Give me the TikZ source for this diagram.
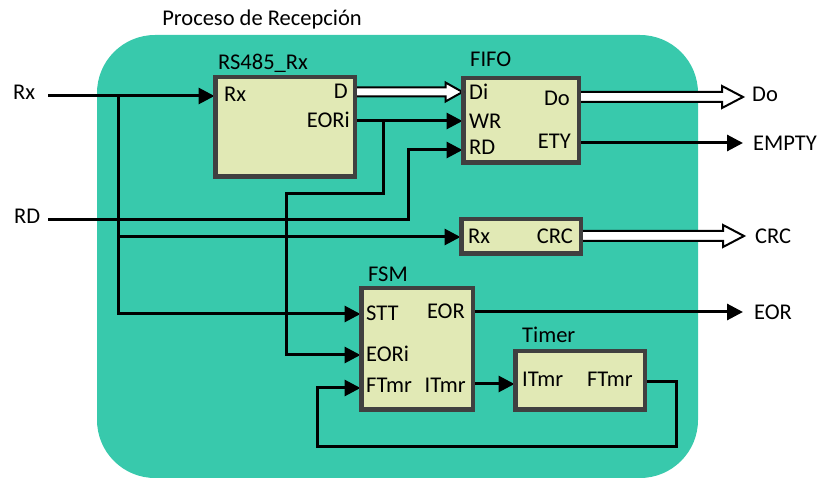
\documentclass[tikz,border=0pt]{standalone}
\usepackage{fontspec}
\setmainfont{Carlito}
\usetikzlibrary{arrows.meta,calc}
\definecolor{tealbg}{HTML}{38C9AC}
\definecolor{boxfill}{HTML}{E1E9B5}
\definecolor{boxline}{HTML}{404040}
\newcommand\hollowarr[5]{%
  \draw[harrow] let \p1=(#1), \p2=(#2) in
    (\x1,\y1+#3) -- (\x2-#5,\y1+#3) -- (\x2-#5,\y1+#4) -- (\x2,\y1)
    -- (\x2-#5,\y1-#4) -- (\x2-#5,\y1-#3) -- (\x1,\y1-#3) -- cycle;}
\begin{document}
\begin{tikzpicture}[x=1pt,y=-1pt,
  font=\fontsize{22.5}{27}\selectfont,
  blk/.style={draw=boxline, fill=boxfill, line width=3pt, inner sep=0pt},
  sig/.style={line width=3pt, -{Triangle[length=16pt,width=16pt]}},
  harrow/.style={draw=black, fill=white, line width=2pt, line join=miter},
  lbl/.style={inner sep=0pt}]
\useasboundingbox (0,0) rectangle (820,478);
\fill[tealbg, rounded corners=58pt] (97,35) rectangle (698,478);

% boxes (positions only)
\coordinate (rsC) at (285,127);
\coordinate (fifoC) at (521,120.5);
\coordinate (crcC) at (521,236.5);
\coordinate (fsmC) at (417,349);
\coordinate (tmrC) at (580,380.5);

% helper levels and points
\coordinate (inRx) at (48,96);
\coordinate (jRx) at (118,96);
\coordinate (yCRC) at (0,237);
\coordinate (ySTT) at (0,314);
\coordinate (inRD) at (48,220);
\coordinate (kRD) at (408,220);
\coordinate (yRD) at (0,150);
\coordinate (yWR) at (0,121);
\coordinate (jE) at (383,121);
\coordinate (kE1) at (383,194);
\coordinate (kE2) at (286,194);
\coordinate (yEORi) at (0,355);
\coordinate (yETY) at (0,143);
\coordinate (outETY) at (743,143);
\coordinate (outEOR) at (743,312);
\coordinate (yIT) at (0,384);
\coordinate (yFT) at (0,382);
\coordinate (kF1) at (676,382);
\coordinate (kF2) at (317,447);
\coordinate (yFF) at (0,388);
\coordinate (yD) at (0,92);
\coordinate (yDo) at (0,97);
\coordinate (outDo) at (743,97);
\coordinate (yCRCo) at (0,236);
\coordinate (outCRC) at (744,236);

\node[blk, minimum width=138pt, minimum height=98pt] (rs) at (rsC) {};
\node[blk, minimum width=114pt, minimum height=83pt] (fifo) at (fifoC) {};
\node[blk, minimum width=118pt, minimum height=33pt] (crc) at (crcC) {};
\node[blk, minimum width=110pt, minimum height=120pt] (fsm) at (fsmC) {};
\node[blk, minimum width=128pt, minimum height=57pt] (tmr) at (tmrC) {};

% connectors
\draw[sig] (inRx) -- (rs.west |- inRx);
\draw[sig] (jRx) |- (fsm.west |- ySTT);
\draw[sig] (jRx |- yCRC) -- (crc.west |- yCRC);
\draw[sig] (inRD) -- (kRD) |- (fifo.west |- yRD);
\draw[sig] (rs.east |- yWR) -- (fifo.west |- yWR);
\draw[sig] (jE) -- (kE1) -- (kE2) |- (fsm.west |- yEORi);
\draw[sig] (fifo.east |- yETY) -- (outETY);
\draw[sig] (fsm.east |- outEOR) -- (outEOR);
\draw[sig] (fsm.east |- yIT) -- (tmr.west |- yIT);
\draw[sig] (tmr.east |- yFT) -- (kF1) |- (kF2) |- (fsm.west |- yFF);

\hollowarr{rs.east |- yD}{fifo.west |- yD}{4.5pt}{9.5pt}{17pt}
\hollowarr{fifo.east |- yDo}{outDo}{5pt}{11pt}{21pt}
\hollowarr{crc.east |- yCRCo}{outCRC}{5pt}{11pt}{21pt}

% redraw box borders over connector ends
\foreach \b in {rs,fifo,crc,fsm,tmr}
  \draw[boxline, line width=3pt] (\b.south west) rectangle (\b.north east);

% titles
\node[lbl, anchor=base] (title) at (262,26) {Proceso de Recepción};
\node[lbl, anchor=base west] (rsT) at (218,70) {RS485\_Rx};
\node[lbl, anchor=base west] (fifoT) at (470,67) {FIFO};
\node[lbl, anchor=base west] (fsmT) at (368,282) {FSM};
\node[lbl, anchor=base west] (tmrT) at (522,343) {Timer};

% port labels
\node[lbl, anchor=base west] (pRsRx) at (224,102) {Rx};
\node[lbl, anchor=base east] (pRsD) at (348,99) {D};
\node[lbl, anchor=base east] (pRsE) at (350,128) {EORi};
\node[lbl, anchor=base west] (pDi) at (469,100) {Di};
\node[lbl, anchor=base west] (pWR) at (469,129) {WR};
\node[lbl, anchor=base west] (pRD) at (469,155) {RD};
\node[lbl, anchor=base east] (pDo) at (570,106) {Do};
\node[lbl, anchor=base east] (pETY) at (571,149) {ETY};
\node[lbl, anchor=base west] (pCRx) at (468,244) {Rx};
\node[lbl, anchor=base east] (pCRC) at (573,244) {CRC};
\node[lbl, anchor=base west] (pSTT) at (366,321) {STT};
\node[lbl, anchor=base west] (pFE) at (366,362) {EORi};
\node[lbl, anchor=base west] (pFF) at (366,393) {FTmr};
\node[lbl, anchor=base east] (pEOR) at (465,319) {EOR};
\node[lbl, anchor=base east] (pFI) at (466,393) {ITmr};
\node[lbl, anchor=base west] (pTI) at (522,387) {ITmr};
\node[lbl, anchor=base east] (pTF) at (633,387) {FTmr};

% external labels
\node[lbl, anchor=base west] (lRx) at (13,100) {Rx};
\node[lbl, anchor=base west] (lRD) at (14,224) {RD};
\node[lbl, anchor=base west] (lDo) at (752,102) {Do};
\node[lbl, anchor=base west] (lEMPTY) at (753,151) {EMPTY};
\node[lbl, anchor=base west] (lCRC) at (755,244) {CRC};
\node[lbl, anchor=base west] (lEOR) at (754,320) {EOR};
\end{tikzpicture}
\end{document}
